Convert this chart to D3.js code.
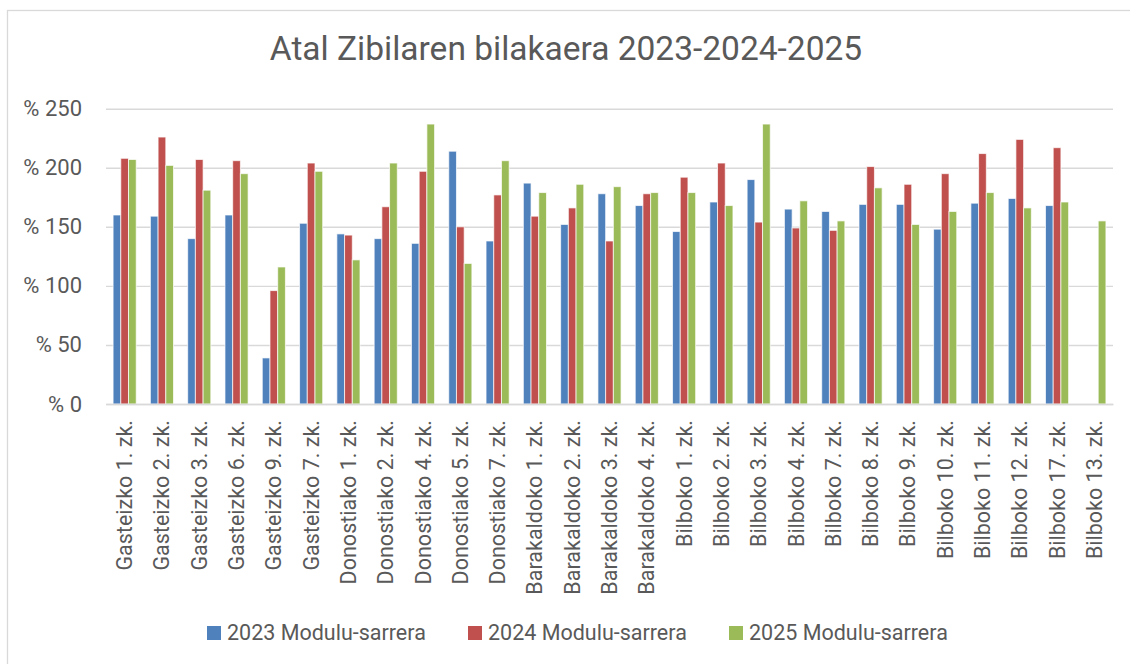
<!DOCTYPE html>
<html>
<head>
<meta charset="utf-8">
<script src="https://cdn.jsdelivr.net/npm/d3@7"></script>
<style>
  body { margin: 0; background: #fff; }
  text { font-family: Roboto, "Liberation Sans", sans-serif; fill: #595959; }
</style>
</head>
<body>
<div id="chart"></div>
<script>
// Data
var categories = [
    "Gasteizko 1. zk.", "Gasteizko 2. zk.", "Gasteizko 3. zk.", "Gasteizko 6. zk.",
    "Gasteizko 9. zk.", "Gasteizko 7. zk.", "Donostiako 1. zk.", "Donostiako 2. zk.",
    "Donostiako 4. zk.", "Donostiako 5. zk.", "Donostiako 7. zk.", "Barakaldoko 1. zk.",
    "Barakaldoko 2. zk.", "Barakaldoko 3. zk.", "Barakaldoko 4. zk.", "Bilboko 1. zk.",
    "Bilboko 2. zk.", "Bilboko 3. zk.", "Bilboko 4. zk.", "Bilboko 7. zk.",
    "Bilboko 8. zk.", "Bilboko 9. zk.", "Bilboko 10. zk.", "Bilboko 11. zk.",
    "Bilboko 12. zk.", "Bilboko 17. zk.", "Bilboko 13. zk."
];
var seriesNames = ["2023 Modulu-sarrera", "2024 Modulu-sarrera", "2025 Modulu-sarrera"];
var values2023 = [160, 159, 140, 160, 39, 153, 144, 140, 136, 214, 138, 187, 152, 178, 168,
    146, 171, 190, 165, 163, 169, 169, 148, 170, 174, 168, null];
var values2024 = [208, 226, 207, 206, 96, 204, 143, 167, 197, 150, 177, 159, 166, 138, 178,
    192, 204, 154, 149, 147, 201, 186, 195, 212, 224, 217, null];
var values2025 = [207, 202, 181, 195, 116, 197, 122, 204, 237, 119, 206, 179, 186, 184, 179,
    179, 168, 237, 172, 155, 183, 152, 163, 179, 166, 171, 155];
var yTicks = [0, 50, 100, 150, 200, 250];
var colors = ["#4f81bd", "#c0504d", "#9bbb59"];

var svgWidth = 1130;
var svgHeight = 664;

var svg = d3.select("#chart")
    .append("svg")
    .attr("width", svgWidth)
    .attr("height", svgHeight);

// chart frame (right and bottom edges run off the picture)
svg.append("rect")
    .attr("x", 7.5)
    .attr("y", 10.5)
    .attr("width", 1140)
    .attr("height", 680)
    .attr("fill", "#fff")
    .attr("stroke", "#d9d9d9")
    .attr("stroke-width", 1.3);

// title
svg.append("text")
    .attr("x", 566)
    .attr("y", 60)
    .attr("text-anchor", "middle")
    .attr("font-size", 33.5)
    .text("Atal Zibilaren bilakaera 2023-2024-2025");

// Scales
var x0 = d3.scaleBand()
    .domain(categories)
    .range([106, 1113])
    .paddingInner(0.38)
    .paddingOuter(0.19);

var x1 = d3.scaleBand()
    .domain([0, 1, 2])
    .range([0, x0.bandwidth()]);

var y = d3.scaleLinear()
    .domain([0, 250])
    .range([404, 108.7]);

// gridlines + y labels
var yAxis = d3.axisLeft(y)
    .tickValues(yTicks)
    .tickSize(-(1113 - 106))
    .tickPadding(24)
    .tickFormat(d => "% " + d);

var yG = svg.append("g")
    .attr("transform", "translate(106,0)")
    .call(yAxis);
yG.select(".domain").remove();
yG.selectAll(".tick line")
    .attr("stroke", "#d9d9d9")
    .attr("stroke-width", 1.4);
yG.selectAll(".tick text")
    .attr("font-size", 22)
    .attr("font-family", "Roboto, sans-serif")
    .attr("fill", "#595959");

// bars
var series = [values2023, values2024, values2025];
var groups = svg.append("g")
    .selectAll("g")
    .data(categories)
    .enter()
    .append("g")
    .attr("transform", d => `translate(${x0(d)},0)`);

groups.selectAll("rect")
    .data((d, i) => series.map((s, k) => ({ k: k, v: s[i] })).filter(e => e.v != null))
    .enter()
    .append("rect")
    .attr("x", d => x1(d.k))
    .attr("y", d => y(d.v))
    .attr("width", x1.bandwidth())
    .attr("height", d => y(0) - y(d.v))
    .attr("fill", d => colors[d.k])
    .attr("stroke", "#fff")
    .attr("stroke-opacity", 0.7)
    .attr("stroke-width", 1);

// x axis
var xAxis = d3.axisBottom(x0).tickSize(0).tickPadding(0);
var xG = svg.append("g")
    .attr("transform", "translate(0,404)")
    .call(xAxis);
xG.select(".domain")
    .attr("stroke", "#d9d9d9")
    .attr("stroke-width", 1.4);
xG.selectAll(".tick text")
    .attr("font-size", 21.5)
    .attr("font-family", "Roboto, sans-serif")
    .attr("fill", "#595959")
    .attr("text-anchor", "end")
    .attr("transform", "rotate(-90)")
    .attr("x", -16)
    .attr("y", 0)
    .attr("dy", "0.35em");

// legend
var legend = svg.append("g")
    .selectAll("g")
    .data(seriesNames)
    .enter()
    .append("g")
    .attr("transform", (d, i) => `translate(${207 + i * 261},626)`);

legend.append("rect")
    .attr("width", 14)
    .attr("height", 14)
    .attr("fill", (d, i) => colors[i]);

legend.append("text")
    .attr("x", 20)
    .attr("y", 13.5)
    .attr("font-size", 21.5)
    .text(d => d);
</script>
</body>
</html>
